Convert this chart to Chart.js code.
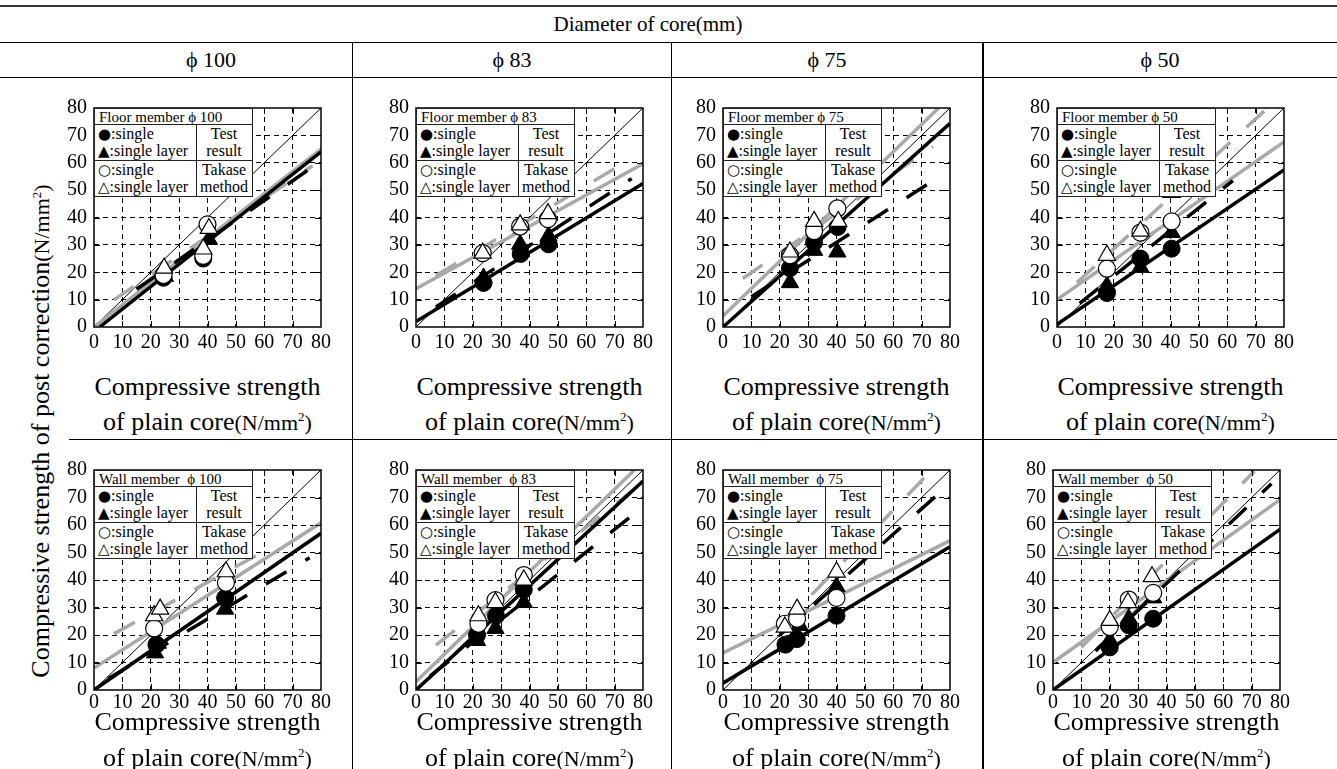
<!DOCTYPE html>
<html><head><meta charset="utf-8">
<script src="https://cdn.jsdelivr.net/npm/chart.js@4/dist/chart.umd.min.js"></script>
<style>
html,body{margin:0;padding:0;background:#fff;}
#page{position:relative;width:1337px;height:769px;overflow:hidden;font-family:'Liberation Serif','Times New Roman',serif;color:#000;}
.ln{position:absolute;background:#000;}
.t{position:absolute;white-space:pre;line-height:1;transform:translate(-50%,-50%);}
.panel{position:absolute;}
.lg{position:absolute;background:#fff;z-index:5;}
.lg div{position:absolute;white-space:pre;}
.sym{font-family:'DejaVu Sans',sans-serif;font-size:15px;}
</style></head><body><div id="page"></div>
<script>
// ---------- text ----------
const headerTitle = 'Diameter of core(mm)';
const diameterLabels = ['ϕ 100', 'ϕ 83', 'ϕ 75', 'ϕ 50'];
const memberLabels = ['Floor member ϕ ', 'Wall member  ϕ '];
const diameterValues = ['100', '83', '75', '50'];
const xTitleLine1 = 'Compressive strength';
const xTitleLine2 = 'of plain core';
const unitText = 'N/mm';
const yTitleText = 'Compressive strength of post correction';
const legendSymbols = ['●', '▲', '○', '△'];
const legendNames = ['single', 'single layer', 'single', 'single layer'];
const legendGroups = [['Test', 'result'], ['Takase', 'method']];
const xTicks = [0, 10, 20, 30, 40, 50, 60, 70, 80];
const yTicks = [0, 10, 20, 30, 40, 50, 60, 70, 80];
const equalityLine = [[0, 0], [80, 80]];

// ---------- Floor member φ100 ----------
const floor100_testSingle = [[24.5, 18], [38.5, 25]];
const floor100_testLayer = [[25, 18.5], [40.5, 32]];
const floor100_takaseSingle = [[24.5, 19], [38.5, 26], [40, 37.5]];
const floor100_takaseLayer = [[24.7, 21.5], [38.5, 28.5], [40.5, 36]];
const floor100_fitTestSingle = [[2, 0], [80, 64]];
const floor100_fitTestLayer = [[15, 13.8], [78, 59.2]];
const floor100_fitTakaseSingle = [[0, 0], [80, 65]];
const floor100_fitTakaseLayer = [[7, 9.9], [77, 58.9]];
// ---------- Floor member φ83 ----------
const floor83_testSingle = [[23.8, 16.1], [36.9, 26.7], [46.7, 30.2]];
const floor83_testLayer = [[23.8, 17.9], [36.7, 30.2], [46.7, 33.2]];
const floor83_takaseSingle = [[23.5, 27], [36.7, 36.7], [46.5, 39.4]];
const floor83_takaseLayer = [[23.5, 27], [36.7, 37.3], [46.5, 41.4]];
const floor83_fitTestSingle = [[0, 2], [80, 52.4]];
const floor83_fitTestLayer = [[7, 7.3], [76, 54.2]];
const floor83_fitTakaseSingle = [[0, 14], [80, 59.6]];
const floor83_fitTakaseLayer = [[7, 18.8], [76, 61.6]];
// ---------- Floor member φ75 ----------
const floor75_testSingle = [[23.6, 21.5], [32.1, 30.9], [40.4, 36.5]];
const floor75_testLayer = [[23.6, 16.2], [32.1, 28], [40.3, 27.4]];
const floor75_takaseSingle = [[23.6, 26.2], [32.1, 35], [40.3, 43.3]];
const floor75_takaseLayer = [[23.6, 27.4], [32.1, 38.6], [40.6, 38.6]];
const floor75_fitTestSingle = [[0, 0], [80, 74.4]];
const floor75_fitTestLayer = [[10, 11.1], [76, 54.7]];
const floor75_fitTakaseSingle = [[0, 4], [76, 80]];
const floor75_fitTakaseLayer = [[7, 17.7], [74, 66]];
// ---------- Floor member φ50 ----------
const floor50_testSingle = [[17.6, 12.4], [29.4, 25], [40.4, 28.6]];
const floor50_testLayer = [[17.6, 15], [29.4, 21.8], [40.4, 34.5]];
const floor50_takaseSingle = [[17.6, 21.3], [29.4, 34.5], [40.4, 38.6]];
const floor50_takaseLayer = [[17.6, 26.2], [29.4, 35], [40.4, 49.2]];
const floor50_fitTestSingle = [[0, 1], [80, 57.4]];
const floor50_fitTestLayer = [[8, 8.6], [62, 53.5]];
const floor50_fitTakaseSingle = [[0, 10], [80, 67.6]];
const floor50_fitTakaseLayer = [[7, 16.2], [74, 79.8]];
// ---------- Wall member φ100 ----------
const wall100_testSingle = [[22, 16.5], [46.2, 33.5]];
const wall100_testLayer = [[21.5, 13.5], [22.5, 17], [46.2, 29.4]];
const wall100_takaseSingle = [[21.2, 22.4], [46.5, 39]];
const wall100_takaseLayer = [[21.2, 27], [23.3, 29.4], [46.5, 43]];
const wall100_fitTestSingle = [[0, 0], [80, 57]];
const wall100_fitTestLayer = [[5, 4.1], [76, 48.1]];
const wall100_fitTakaseSingle = [[0, 8], [80, 60.8]];
const wall100_fitTakaseLayer = [[7, 20.4], [62, 51.7]];
// ---------- Wall member φ83 ----------
const wall83_testSingle = [[21.5, 20], [28.2, 27], [38, 36.5]];
const wall83_testLayer = [[21.5, 18], [28, 22.4], [38, 31.8]];
const wall83_takaseSingle = [[22, 24.1], [28, 32.7], [38, 41.8]];
const wall83_takaseLayer = [[22, 27], [28, 31.8], [38, 40]];
const wall83_fitTestSingle = [[0, 0], [80, 76]];
const wall83_fitTestLayer = [[5, 5.1], [76, 63.3]];
const wall83_fitTakaseSingle = [[0, 3], [77, 80]];
const wall83_fitTakaseLayer = [[7, 16.3], [76, 72.2]];
// ---------- Wall member φ75 ----------
const wall75_testSingle = [[22, 16.5], [26, 18.5], [40, 27]];
const wall75_testLayer = [[27, 23.5], [40, 37.6]];
const wall75_takaseSingle = [[21.8, 24.1], [26.1, 25.9], [40, 33.5]];
const wall75_takaseLayer = [[21.8, 22.9], [26.1, 29.4], [40, 42.9]];
const wall75_fitTestSingle = [[0, 2.5], [80, 52.1]];
const wall75_fitTestLayer = [[20, 19.9], [76, 71.4]];
const wall75_fitTakaseSingle = [[0, 13.5], [80, 54.3]];
const wall75_fitTakaseLayer = [[20, 22.6], [71, 77.2]];
// ---------- Wall member φ50 ----------
const wall50_testSingle = [[20, 15.5], [26.7, 23.5], [35.3, 25.9]];
const wall50_testLayer = [[20, 18], [26.7, 25.9], [35.3, 33.5]];
const wall50_takaseSingle = [[20, 22.9], [26.7, 32.9], [35.3, 35.3]];
const wall50_takaseLayer = [[20, 25.3], [26.4, 31.8], [34.9, 41.2]];
const wall50_fitTestSingle = [[0, 0], [80, 58.4]];
const wall50_fitTestLayer = [[15, 14.2], [77, 75]];
const wall50_fitTakaseSingle = [[0, 10], [80, 69.2]];
const wall50_fitTakaseLayer = [[10, 15.5], [71, 79.6]];

// ---------- layout (positions only) ----------
const plotRects = [
  {x: 94, y: 108, w: 227, h: 226}, {x: 416, y: 108, w: 227, h: 226},
  {x: 723, y: 108, w: 227, h: 226}, {x: 1057, y: 108, w: 227, h: 226},
  {x: 94, y: 470, w: 227, h: 227}, {x: 416, y: 470, w: 227, h: 227},
  {x: 723, y: 470, w: 227, h: 227}, {x: 1053, y: 470, w: 227, h: 227}
];
const GRAY = '#a9a9a9';

const panelSeries = [
  [floor100_testSingle, floor100_testLayer, floor100_takaseSingle, floor100_takaseLayer, floor100_fitTestSingle, floor100_fitTestLayer, floor100_fitTakaseSingle, floor100_fitTakaseLayer],
  [floor83_testSingle, floor83_testLayer, floor83_takaseSingle, floor83_takaseLayer, floor83_fitTestSingle, floor83_fitTestLayer, floor83_fitTakaseSingle, floor83_fitTakaseLayer],
  [floor75_testSingle, floor75_testLayer, floor75_takaseSingle, floor75_takaseLayer, floor75_fitTestSingle, floor75_fitTestLayer, floor75_fitTakaseSingle, floor75_fitTakaseLayer],
  [floor50_testSingle, floor50_testLayer, floor50_takaseSingle, floor50_takaseLayer, floor50_fitTestSingle, floor50_fitTestLayer, floor50_fitTakaseSingle, floor50_fitTakaseLayer],
  [wall100_testSingle, wall100_testLayer, wall100_takaseSingle, wall100_takaseLayer, wall100_fitTestSingle, wall100_fitTestLayer, wall100_fitTakaseSingle, wall100_fitTakaseLayer],
  [wall83_testSingle, wall83_testLayer, wall83_takaseSingle, wall83_takaseLayer, wall83_fitTestSingle, wall83_fitTestLayer, wall83_fitTakaseSingle, wall83_fitTakaseLayer],
  [wall75_testSingle, wall75_testLayer, wall75_takaseSingle, wall75_takaseLayer, wall75_fitTestSingle, wall75_fitTestLayer, wall75_fitTakaseSingle, wall75_fitTakaseLayer],
  [wall50_testSingle, wall50_testLayer, wall50_takaseSingle, wall50_takaseLayer, wall50_fitTestSingle, wall50_fitTestLayer, wall50_fitTakaseSingle, wall50_fitTakaseLayer]
];

const page = document.getElementById('page');
function line(x, y, w, h) {
  const d = document.createElement('div'); d.className = 'ln';
  d.style.left = x + 'px'; d.style.top = y + 'px'; d.style.width = w + 'px'; d.style.height = h + 'px';
  page.appendChild(d); return d;
}
function text(html, x, y, size, extra) {
  const d = document.createElement('div'); d.className = 't';
  d.innerHTML = html; d.style.left = x + 'px'; d.style.top = y + 'px'; d.style.fontSize = size + 'px';
  if (extra) d.style.transform = extra;
  page.appendChild(d); return d;
}

// table rules
line(0, 5, 1337, 1.5).style.background = '#333';
line(0, 42, 1337, 1);
line(0, 77, 1337, 1);
line(69, 439, 1268, 1);
line(352, 42, 1, 727);
line(671, 42, 1, 727);
line(982, 42, 2, 727);

// headers
text(headerTitle, 648, 24, 21);
const colCenters = [211, 512, 827, 1160];
diameterLabels.forEach((s, i) => text(s, colCenters[i], 60, 22));

// y title
text(yTitleText + '<span style="font-size:22px">(' + unitText + '<sup style="font-size:13px">2</sup>)</span>', 41, 431, 26,
  'translate(-50%,-50%) rotate(-90deg)');

const unitHtml = '<span style="font-size:22px">(' + unitText + '<sup style="font-size:13px;vertical-align:9px">2</sup>)</span>';

const PADL = 45, PADR = 14, PADT = 12, PADB = 30;

const framePlugin = {
  id: 'frame',
  afterDraw(chart) {
    const {ctx, chartArea: a, scales} = chart;
    ctx.save();
    ctx.setLineDash([]);
    ctx.strokeStyle = '#000';
    ctx.lineWidth = 1;
    xTicks.slice(1, -1).forEach(v => {
      const px = Math.round(scales.x.getPixelForValue(v)) + 0.5;
      ctx.beginPath(); ctx.moveTo(px, a.bottom); ctx.lineTo(px, a.bottom - 6);
      ctx.moveTo(px, a.top); ctx.lineTo(px, a.top + 6); ctx.stroke();
    });
    yTicks.slice(1, -1).forEach(v => {
      const py = Math.round(scales.y.getPixelForValue(v)) + 0.5;
      ctx.beginPath(); ctx.moveTo(a.left, py); ctx.lineTo(a.left + 6, py);
      ctx.moveTo(a.right, py); ctx.lineTo(a.right - 6, py); ctx.stroke();
    });
    ctx.lineWidth = 1.5;
    ctx.strokeRect(a.left, a.top, a.right - a.left, a.bottom - a.top);
    ctx.restore();
  }
};

const pts = arr => arr.map(p => ({x: p[0], y: p[1]}));
const font = {family: "'Liberation Serif','Times New Roman',serif", size: 20};

function buildPanel(i) {
  const r = plotRects[i];
  const s = panelSeries[i];
  const bottomRow = i >= 4;
  const W = r.w + PADL + PADR, H = r.h + PADT + PADB;
  const wrap = document.createElement('div'); wrap.className = 'panel';
  wrap.style.left = (r.x - PADL) + 'px'; wrap.style.top = (r.y - PADT) + 'px';
  const cv = document.createElement('canvas');
  cv.width = W; cv.height = H; cv.style.width = W + 'px'; cv.style.height = H + 'px';
  wrap.appendChild(cv); page.appendChild(wrap);

  const marker = (data, style, fill, order, radius) => ({
    data: pts(data), showLine: false, pointStyle: style, pointRadius: radius, pointHoverRadius: radius,
    backgroundColor: fill, pointBackgroundColor: fill, borderColor: '#000', pointBorderColor: '#000',
    pointBorderWidth: fill === '#fff' ? 1.2 : 1, order
  });
  const fit = (data, color, dashed, width, order) => ({
    data: pts(data), showLine: true, pointRadius: 0, borderColor: color, backgroundColor: color,
    borderWidth: width, borderDash: dashed ? [24, 22] : [], fill: false, order
  });

  const chart = new Chart(cv, {
    type: 'scatter',
    data: {
      datasets: [
        marker(s[3], 'triangle', '#fff', 0, 10),
        marker(s[2], 'circle', '#fff', 1, 8.5),
        marker(s[1], 'triangle', '#000', 2, 10),
        marker(s[0], 'circle', '#000', 3, 8.5),
        fit(s[4], '#000', false, 3.5, 10),
        fit(s[5], '#000', true, 3.5, 11),
        fit(s[6], GRAY, false, 3.5, 12),
        fit(s[7], GRAY, true, 3.5, 13),
        fit(equalityLine, '#000', false, 1, 14)
      ]
    },
    options: {
      responsive: false, animation: false, devicePixelRatio: 1, events: [],
      layout: {padding: {left: 0, right: PADR, top: PADT, bottom: 0}},
      plugins: {legend: {display: false}, tooltip: {enabled: false}},
      scales: {
        x: {
          type: 'linear', min: 0, max: 80,
          afterBuildTicks: sc => { sc.ticks = xTicks.map(v => ({value: v})); },
          afterFit: sc => { sc.height = PADB; },
          ticks: {font, color: '#000', padding: bottomRow ? 1 : 4, autoSkip: false, maxRotation: 0, minRotation: 0},
          grid: {drawTicks: false, lineWidth: 1, color: c => (c.tick && (c.tick.value === 0 || c.tick.value === 80)) ? 'rgba(0,0,0,0)' : '#000'},
          border: {display: false, dash: [5, 4]}
        },
        y: {
          type: 'linear', min: 0, max: 80,
          afterBuildTicks: sc => { sc.ticks = yTicks.map(v => ({value: v})); },
          afterFit: sc => { sc.width = PADL; },
          ticks: {font, color: '#000', padding: 7, autoSkip: false},
          grid: {drawTicks: false, lineWidth: 1, color: c => (c.tick && (c.tick.value === 0 || c.tick.value === 80)) ? 'rgba(0,0,0,0)' : '#000'},
          border: {display: false, dash: [5, 4]}
        }
      }
    },
    plugins: [framePlugin]
  });
  const a = chart.chartArea;
  wrap.style.left = (r.x - a.left) + 'px';
  wrap.style.top = (r.y - a.top) + 'px';

  // legend box (HTML, over the plot's upper-left corner)
  const lg = document.createElement('div'); lg.className = 'lg';
  const LW = 158, LH = 88, DIV = 102;
  lg.style.left = r.x + 'px'; lg.style.top = r.y + 'px'; lg.style.width = LW + 'px'; lg.style.height = LH + 'px';
  const add = (html, css) => { const d = document.createElement('div'); d.innerHTML = html; Object.assign(d.style, css); lg.appendChild(d); };
  const bar = (x, y, w, h) => add('', {left: x + 'px', top: y + 'px', width: w + 'px', height: h + 'px', background: '#222'});
  bar(0, 0, LW, 1); bar(0, LH, LW + 1, 1); bar(0, 0, 1, LH); bar(LW, 0, 1, LH);
  bar(0, 16, LW, 1); bar(0, 52, LW, 1); bar(DIV, 16, 1, LH - 16);
  const member = memberLabels[bottomRow ? 1 : 0] + diameterValues[i % 4];
  add(member, {left: '5px', top: '1px', fontSize: '15px', lineHeight: '16px'});
  for (let k = 0; k < 4; k++) {
    const top = 17 + Math.floor(k / 2) * 36 + (k % 2) * 17;
    add('<span class="sym">' + legendSymbols[k] + '</span>:' + legendNames[k],
      {left: '4px', top: top + 'px', fontSize: '16px', lineHeight: '18px'});
    const g = legendGroups[Math.floor(k / 2)][k % 2];
    add(g, {left: DIV + 'px', width: (LW - DIV) + 'px', textAlign: 'center', top: top + 'px', fontSize: '16px', lineHeight: '18px'});
  }
  page.appendChild(lg);

  // x axis title
  const cx = r.x + r.w / 2;
  const y1 = bottomRow ? 722 : 387, y2 = bottomRow ? 758 : 422;
  text(xTitleLine1, cx, y1, 26);
  text(xTitleLine2 + unitHtml, cx, y2, 26);
}

for (let i = 0; i < 8; i++) buildPanel(i);
</script></body></html>
